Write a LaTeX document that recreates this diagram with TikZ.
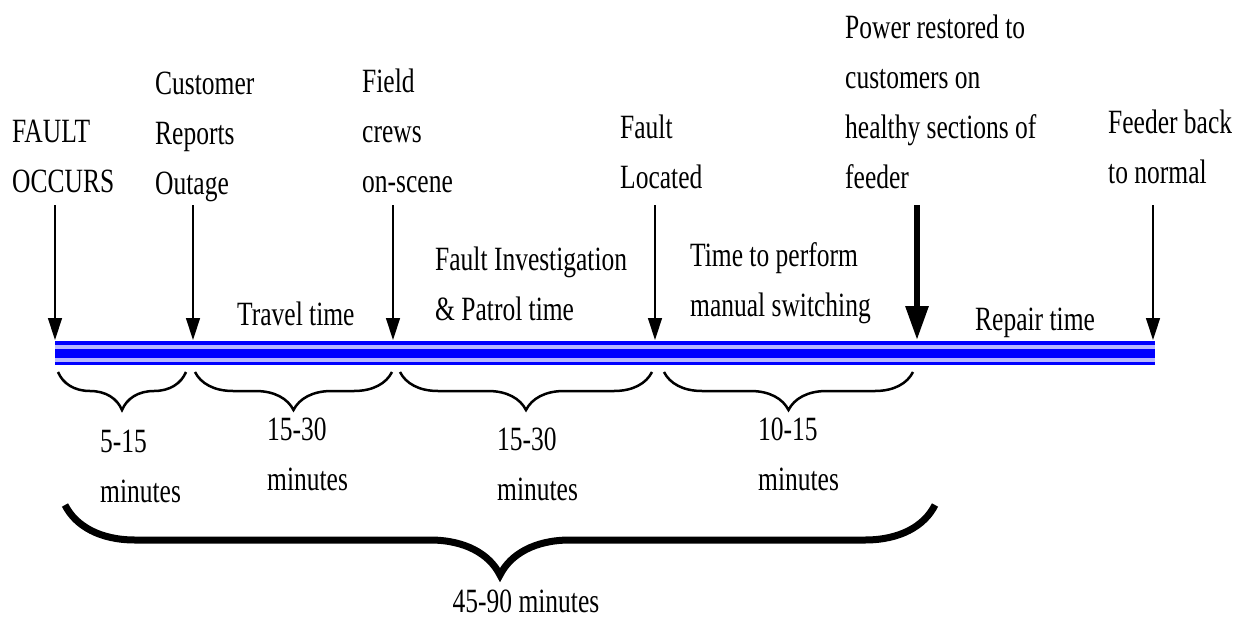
\documentclass[tikz,border=0pt]{standalone}
\usepackage{fontspec}
\setmainfont{Liberation Serif}[FakeStretch=0.75]
\usetikzlibrary{arrows.meta, decorations.pathreplacing}
\definecolor{cbar}{HTML}{0000FF}
\definecolor{cgap}{HTML}{B8B8FF}
\tikzset{
  every picture/.style={x=1pt, y=-1pt, font=\fontsize{34}{50}\selectfont},
  lbl/.style={inner sep=0pt, align=left, anchor=base west},
  arrow/.style={-{Triangle[length=22pt, width=14pt]}, line width=1.4pt},
  bigarrow/.style={-{Triangle[length=34pt, width=22pt]}, line width=6pt},
  brace/.style={decorate, decoration={brace, mirror, amplitude=#1}, line width=2.5pt},
  brace/.default=38pt,
}

\begin{document}
\begin{tikzpicture}
  \useasboundingbox (0,0) rectangle (1244,621);
  \fill[cgap] (55,341) rectangle (1155,365);
  \foreach \y/\w in {343/3.5, 353.5/9, 363/3}
    \draw[cbar, line width=\w pt] (55,\y) -- (1155,\y);
  \node[lbl] (occurs) at (12,192) {FAULT\\OCCURS};
  \node[lbl] (reports) at (155,194) {Customer\\Reports\\Outage};
  \node[lbl] (scene) at (362,192) {Field\\crews\\on-scene};
  \node[lbl] (located) at (620,188) {Fault\\Located};
  \node[lbl] (restored) at (845,188) {Power restored to\\customers on\\healthy sections of\\feeder};
  \node[lbl] (normal) at (1108,183) {Feeder back\\to normal};
  \node[lbl] (travel) at (237,325) {Travel time};
  \node[lbl] (patrol) at (435,320) {Fault Investigation\\\& Patrol time};
  \node[lbl] (switching) at (690,316) {Time to perform\\manual switching};
  \node[lbl] (repair) at (975,330) {Repair time};
  \foreach \n/\x in {occurs/55, reports/193, scene/393, located/655, normal/1153} {
    \coordinate (\n-top) at (\x,205);
    \coordinate (\n-bar) at (\x,340);
    \draw[arrow] (\n-top) -- (\n-bar);
  }
  \coordinate (restored-top) at (917,205);
  \coordinate (restored-bar) at (917,340);
  \draw[bigarrow] (restored-top) -- (restored-bar);
  \foreach \a/\b in {58/186, 195/392, 400/652, 664/913}
    \draw[brace] (\a,372) -- (\b,372);
  \node[lbl] (d1) at (100,502) {5-15\\minutes};
  \node[lbl] (d2) at (267,490) {15-30\\minutes};
  \node[lbl] (d3) at (497,500) {15-30\\minutes};
  \node[lbl] (d4) at (758,490) {10-15\\minutes};
  \draw[brace=70pt, line width=7pt] (65,505) -- (935,505);
  \node[inner sep=0pt, anchor=base] (total) at (526,612) {45-90 minutes};
\end{tikzpicture}
\end{document}
